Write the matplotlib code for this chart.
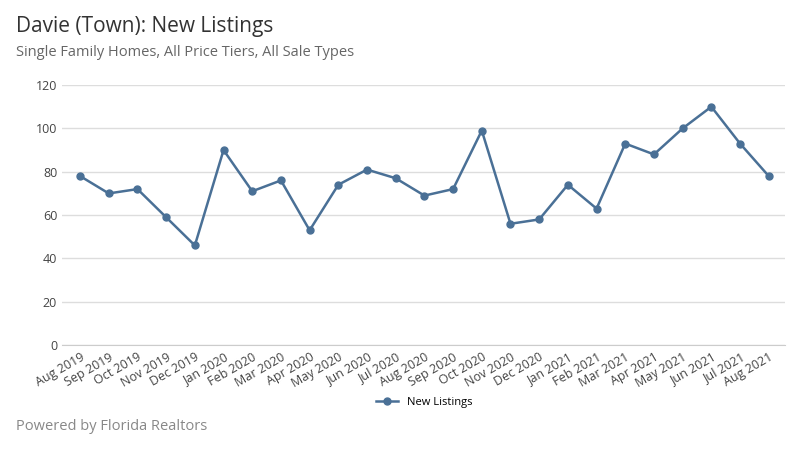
import matplotlib
matplotlib.use("Agg")
import matplotlib.pyplot as plt
import numpy as np

months = ["Aug 2019", "Sep 2019", "Oct 2019", "Nov 2019", "Dec 2019",
          "Jan 2020", "Feb 2020", "Mar 2020", "Apr 2020", "May 2020",
          "Jun 2020", "Jul 2020", "Aug 2020", "Sep 2020", "Oct 2020",
          "Nov 2020", "Dec 2020", "Jan 2021", "Feb 2021", "Mar 2021",
          "Apr 2021", "May 2021", "Jun 2021", "Jul 2021", "Aug 2021"]
new_listings = [78, 70, 72, 59, 46, 90, 71, 76, 53, 74, 81, 77, 69, 72, 99,
                56, 58, 74, 63, 93, 88, 100, 110, 93, 78]

plt.rcParams["font.family"] = ["Open Sans", "DejaVu Sans"]
color = "#4a7096"

fig = plt.figure(figsize=(8, 4.5), dpi=100)
ax = fig.add_axes([0.0775, 0.233, 0.9035, 0.578])
x = np.arange(len(months))
ax.plot(x, new_listings, color=color, linewidth=1.8, marker="o",
        markersize=5, label="New Listings")

ax.set_xlim(-0.63, 24.56)
ax.set_ylim(0, 120)
ax.set_yticks(range(0, 121, 20))
ax.set_xticks(x)
ax.set_xticklabels(months, rotation=30, ha="right", rotation_mode="anchor",
                   fontsize=9, color="#444444")
ax.tick_params(axis="y", labelsize=9, colors="#444444", length=0)
ax.tick_params(axis="x", length=0, pad=4)
ax.grid(axis="y", color="#dddddd", linewidth=1)
ax.set_axisbelow(True)
for s in ["top", "right", "left"]:
    ax.spines[s].set_visible(False)
ax.spines["bottom"].set_color("#cccccc")

fig.text(0.02, 0.965, "Davie (Town): New Listings", fontsize=15,
         color="#333333", va="top")
fig.text(0.02, 0.9, "Single Family Homes, All Price Tiers, All Sale Types",
         fontsize=10.5, color="#666666", va="top")
fig.text(0.02, 0.035, "Powered by Florida Realtors", fontsize=10.5,
         color="#888888", va="bottom")
fig.legend(loc="center", bbox_to_anchor=(0.53, 0.105), frameon=False,
           fontsize=8)

fig.savefig("out.png", dpi=100)
